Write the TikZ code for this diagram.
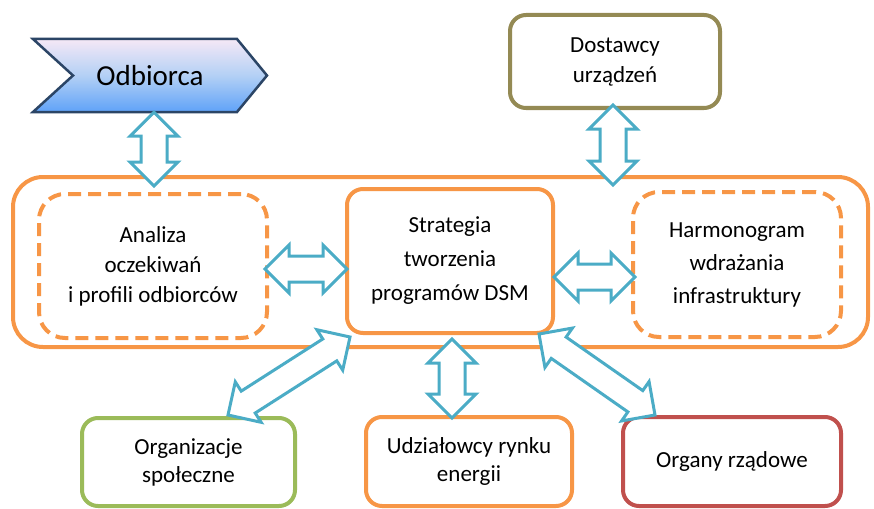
\documentclass[tikz,border=0pt]{standalone}
\usepackage{fontspec}
\setmainfont{Carlito}
\usetikzlibrary{calc}
\definecolor{cOrange}{HTML}{F79646}
\definecolor{cGreen}{HTML}{9BBB59}
\definecolor{cRed}{HTML}{C0504D}
\definecolor{cOlive}{HTML}{948A54}
\definecolor{cArrow}{HTML}{4BACC6}
\definecolor{cNavy}{HTML}{2B4566}
\definecolor{cLav}{HTML}{F5E8F6}
\definecolor{cMidBlue}{HTML}{B3D0F5}
\definecolor{cBlue}{HTML}{5FA2F8}
\tikzset{
  box/.style={draw, line width=4pt, rounded corners=16pt, fill=white, inner sep=0pt,
    align=center, font=\fontsize{23}{30}\selectfont},
  dbox/.style={box, dash pattern=on 13pt off 7pt, rounded corners=26pt},
  arr/.style={draw=cArrow, line width=3pt, fill=white, line join=miter},
}
\newcommand\dbla[2]{%
  \coordinate (q1) at ($(#1)!24pt!(#2)$);
  \coordinate (q2) at ($(#2)!24pt!(#1)$);
  \draw[arr] (#1) -- ($(q1)!24pt!90:(#2)$) -- ($(q1)!13pt!90:(#2)$)
    -- ($(q2)!13pt!-90:(#1)$) -- ($(q2)!24pt!-90:(#1)$) -- (#2)
    -- ($(q2)!24pt!90:(#1)$) -- ($(q2)!13pt!90:(#1)$)
    -- ($(q1)!13pt!-90:(#2)$) -- ($(q1)!24pt!-90:(#2)$) -- cycle;}
\begin{document}
\begin{tikzpicture}[x=1pt,y=-1pt]
\useasboundingbox (0,0) rectangle (874,508);
% outer frame
\node[draw=cOrange, line width=4pt, rounded corners=30pt, minimum width=855pt, minimum height=170pt, inner sep=0pt] (outer) at (440.5,262) {};
% Odbiorca chevron
\draw[draw=cNavy, line width=2.5pt, line join=miter, top color=cLav, bottom color=cBlue, middle color=cMidBlue]
  (33,39) -- (237,39) -- (267,75.5) -- (237,112) -- (33,112) -- (73,75.5) -- cycle;
\node[minimum width=234pt, minimum height=73pt, inner sep=0pt, font=\fontsize{29}{34}\selectfont] (odb) at (150,75.5) {Odbiorca};
% boxes
\node[box, draw=cOlive, minimum width=210pt, minimum height=93pt] (dos) at (615,61.5) {Dostawcy\\urządzeń};
\node[dbox, draw=cOrange, minimum width=228pt, minimum height=144pt] (ana) at (153,266) {Analiza\\oczekiwań\\i profili odbiorców};
\node[box, draw=cOrange, minimum width=206pt, minimum height=144pt, font=\fontsize{23}{34}\selectfont] (str) at (450,261) {Strategia\\tworzenia\\programów DSM};
\node[dbox, draw=cOrange, minimum width=208pt, minimum height=145pt, font=\fontsize{23}{33}\selectfont] (har) at (737,264.5) {Harmonogram\\wdrażania\\infrastruktury};
\node[box, draw=cGreen, minimum width=213pt, minimum height=88pt, font=\fontsize{23}{28}\selectfont] (org) at (188.5,462) {Organizacje\\społeczne};
\node[box, draw=cOrange, minimum width=206pt, minimum height=89pt, font=\fontsize{23}{28}\selectfont] (udz) at (469,461.5) {Udziałowcy rynku\\energii};
\node[box, draw=cRed, minimum width=218pt, minimum height=89pt] (rzad) at (732,461.5) {Organy rządowe};
% arrow end points
\coordinate (a1) at ($(odb.south)+(4,0)$);
\coordinate (a2) at ($(ana.north)+(1,-6)$);
\coordinate (b1) at ($(dos.south)+(-2,-5)$);
\coordinate (b2) at ($(har.north)+(-124,-5)$);
\coordinate (c1) at ($(ana.east)+(-4,3)$);
\coordinate (c2) at ($(str.west)+(2,8)$);
\coordinate (d1) at ($(str.east)+(-1,16)$);
\coordinate (d2) at ($(har.west)+(4,12.5)$);
\coordinate (e1) at ($(str.south)+(2,4)$);
\coordinate (e2) at ($(udz.north)+(-17,3)$);
\coordinate (f1) at ($(str.south west)+(5,2)$);
\coordinate (f2) at ($(org.north)+(39.5,-1)$);
\coordinate (g1) at ($(str.south east)+(-16,-1)$);
\coordinate (g2) at ($(rzad.north west)+(34,0)$);
% double arrows
\dbla{a1}{a2}
\dbla{b1}{b2}
\dbla{c1}{c2}
\dbla{d1}{d2}
\dbla{e1}{e2}
\dbla{f1}{f2}
\dbla{g1}{g2}
\end{tikzpicture}
\end{document}
